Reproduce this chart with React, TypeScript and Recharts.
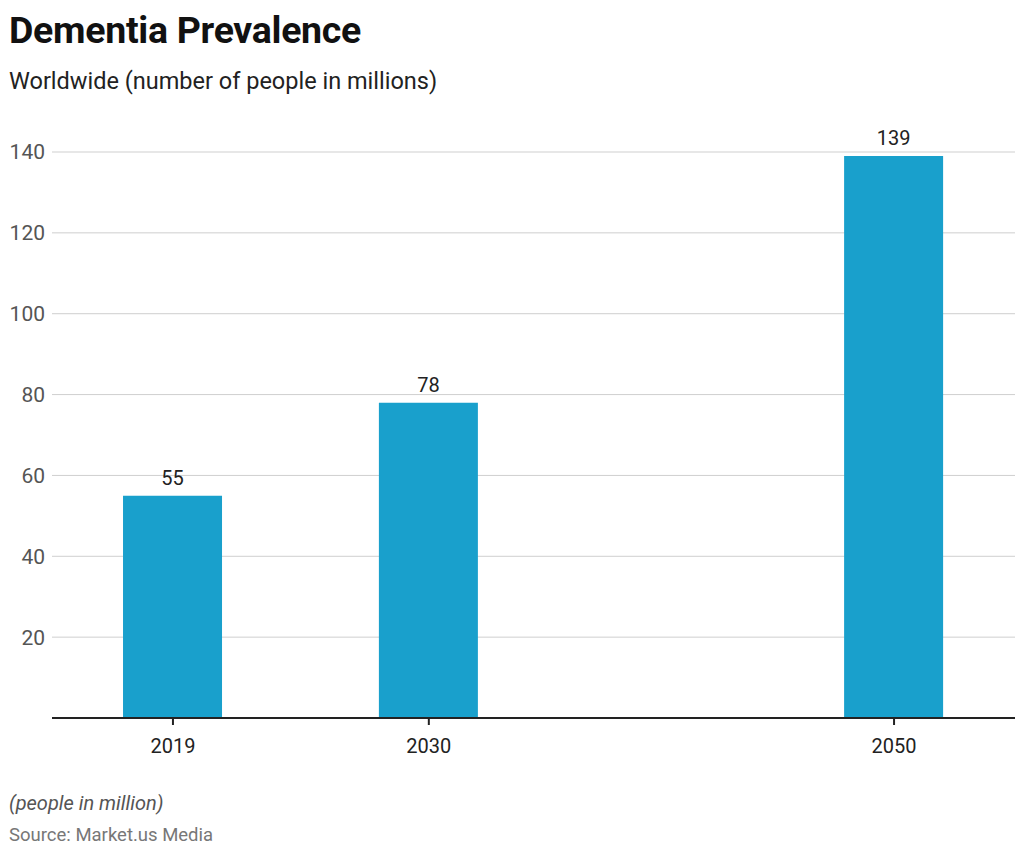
import React from 'react';
import { BarChart, Bar, XAxis, YAxis, CartesianGrid, LabelList } from 'recharts';

const years = [2019, 2030, 2050];
const people = [55, 78, 139];
const yTicks = [20, 40, 60, 80, 100, 120, 140];

const data = years.map((year, i) => ({ year, value: people[i] }));

const FONT = 'Roboto, "Noto Sans", sans-serif';

const App: React.FC = () => {
  return (
    <div style={{ position: 'relative', width: 1024, height: 854, margin: -8, fontFamily: FONT, background: '#fff' }}>
      <div style={{ position: 'absolute', left: 9, top: 8, fontSize: 37.5, fontWeight: 700, color: '#111', letterSpacing: -0.3 }}>
        Dementia Prevalence
      </div>
      <div style={{ position: 'absolute', left: 9, top: 67, fontSize: 23.5, color: '#222' }}>
        Worldwide (number of people in millions)
      </div>
      <div style={{ position: 'absolute', top: 0, left: 0 }}>
        <BarChart
          width={1024}
          height={854}
          data={data}
          margin={{ top: 152, right: 9, bottom: 106, left: 0 }}
        >
          <CartesianGrid vertical={false} stroke="#cfcfcf" strokeWidth={1} />
          <XAxis
            dataKey="year"
            type="number"
            domain={[2013.8, 2055.2]}
            ticks={years}
            allowDataOverflow
            axisLine={{ stroke: '#222', strokeWidth: 2 }}
            tickLine={{ stroke: '#222', strokeWidth: 2 }}
            tickSize={7}
            tickMargin={14}
            tick={{ fill: '#222', fontSize: 20, fontFamily: FONT }}
          />
          <YAxis
            type="number"
            domain={[0, 140]}
            ticks={yTicks}
            width={52}
            axisLine={false}
            tickLine={false}
            tickMargin={1}
            tick={{ fill: '#555', fontSize: 21, fontFamily: FONT }}
          />
          <Bar dataKey="value" fill="#19a0cc" barSize={99} isAnimationActive={false}>
            <LabelList dataKey="value" position="top" offset={11} fill="#222" fontSize={20} fontFamily={FONT} />
          </Bar>
        </BarChart>
      </div>
      <div style={{ position: 'absolute', left: 9, top: 791, fontSize: 20, fontStyle: 'italic', color: '#555' }}>
        (people in million)
      </div>
      <div style={{ position: 'absolute', left: 9, top: 824, fontSize: 18.5, color: '#777' }}>
        Source: Market.us Media
      </div>
    </div>
  );
};

export default App;
